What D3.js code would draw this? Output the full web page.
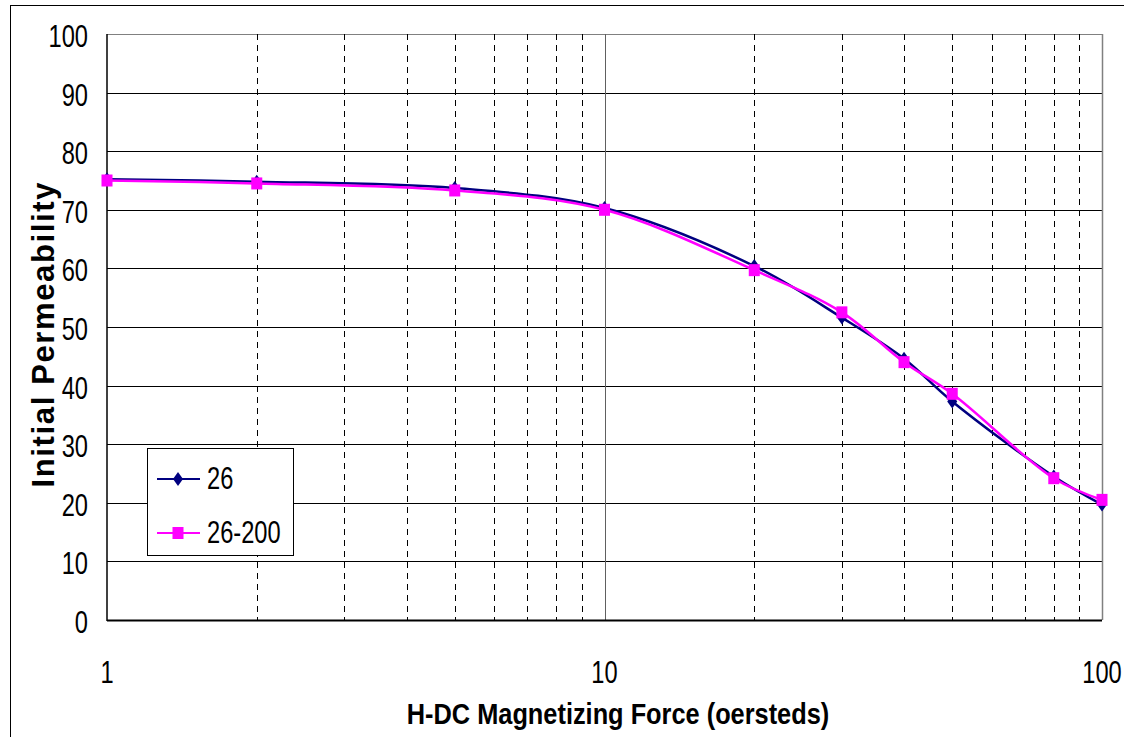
<!DOCTYPE html>
<html>
<head>
<meta charset="utf-8">
<script src="https://cdn.jsdelivr.net/npm/d3@7"></script>
<style>
  body { margin: 0; background: #fff; }
  text { font-family: "Liberation Sans", Arial, sans-serif; }
</style>
</head>
<body>
<svg id="chart" width="1124" height="737"></svg>
<script>
// values
const hValues = [1, 2, 5, 10, 20, 30, 40, 50, 80, 100];
const perm26 = [75.2, 74.8, 73.7, 70.3, 60.4, 51.6, 44.6, 37.3, 24.5, 19.7];
const perm26_200 = [75.0, 74.5, 73.3, 70.0, 59.7, 52.5, 44.0, 38.6, 24.2, 20.5];
const yTicks = [0, 10, 20, 30, 40, 50, 60, 70, 80, 90, 100];
const xTickLabels = [1, 10, 100];
const minorTicks = [2, 3, 4, 5, 6, 7, 8, 9, 20, 30, 40, 50, 60, 70, 80, 90];

const series = [
  { name: "26", values: perm26, color: "#000080", marker: "diamond" },
  { name: "26-200", values: perm26_200, color: "#ff00ff", marker: "square" }
];

const svg = d3.select("#chart");
const plotLeft = 107, plotRight = 1102, plotTop = 34, plotBottom = 620;
const narrow = 0.74; // horizontal squeeze to mimic a narrow face

const x = d3.scaleLog().domain([1, 100]).range([plotLeft, plotRight]);
const y = d3.scaleLinear().domain([0, 100]).range([plotBottom, plotTop]);

// outer frame
svg.append("rect")
  .attr("x", 10.5).attr("y", 5.5)
  .attr("width", 1130).attr("height", 760)
  .attr("fill", "none").attr("stroke", "#000").attr("stroke-width", 1);

// horizontal grid
svg.append("g").selectAll("line").data(yTicks).join("line")
  .attr("x1", plotLeft).attr("x2", plotRight)
  .attr("y1", d => Math.round(y(d)) + 0.5).attr("y2", d => Math.round(y(d)) + 0.5)
  .attr("stroke", d => d === 100 ? "#808080" : "#000").attr("stroke-width", 1);

// vertical minor grid (dashed)
svg.append("g").selectAll("line").data(minorTicks).join("line")
  .attr("x1", d => Math.round(x(d)) + 0.5).attr("x2", d => Math.round(x(d)) + 0.5)
  .attr("y1", plotTop).attr("y2", plotBottom)
  .attr("stroke", "#000").attr("stroke-width", 1)
  .attr("stroke-dasharray", "6,5");

// vertical major grid at 10
svg.append("line")
  .attr("x1", Math.round(x(10)) + 0.5).attr("x2", Math.round(x(10)) + 0.5)
  .attr("y1", plotTop).attr("y2", plotBottom)
  .attr("stroke", "#606060").attr("stroke-width", 1);

// right border
svg.append("line")
  .attr("x1", plotRight + 0.5).attr("x2", plotRight + 0.5)
  .attr("y1", plotTop).attr("y2", plotBottom)
  .attr("stroke", "#808080").attr("stroke-width", 1.5);

// axes lines
svg.append("line")
  .attr("x1", plotLeft).attr("x2", plotLeft).attr("y1", plotTop).attr("y2", plotBottom + 1)
  .attr("stroke", "#000").attr("stroke-width", 1.5);
svg.append("line")
  .attr("x1", plotLeft).attr("x2", plotRight).attr("y1", plotBottom + 0.5).attr("y2", plotBottom + 0.5)
  .attr("stroke", "#000").attr("stroke-width", 2);

// y tick labels
svg.append("g").selectAll("text").data(yTicks).join("text")
  .attr("transform", d => `translate(88,${y(d) + 13}) scale(${narrow},1)`)
  .attr("text-anchor", "end")
  .attr("font-size", 32)
  .text(d => d);

// x tick labels
svg.append("g").selectAll("text").data(xTickLabels).join("text")
  .attr("transform", d => `translate(${x(d)},683) scale(${narrow},1)`)
  .attr("text-anchor", "middle")
  .attr("font-size", 32)
  .text(d => d);

// axis titles
svg.append("text")
  .attr("transform", "translate(618,724) scale(0.845,1)")
  .attr("text-anchor", "middle")
  .attr("font-size", 30).attr("font-weight", "bold")
  .text("H-DC Magnetizing Force (oersteds)");

svg.append("text")
  .attr("transform", "translate(54,335) rotate(-90)")
  .attr("text-anchor", "middle")
  .attr("font-size", 31).attr("font-weight", "bold")
  .attr("textLength", 305)
  .attr("lengthAdjust", "spacing")
  .text("Initial Permeability");

// lines
const line = d3.line()
  .x((d, i) => x(hValues[i]))
  .y(d => y(d))
  .curve(d3.curveCatmullRom.alpha(0.5));

const plot = svg.append("g");
series.forEach(s => {
  plot.append("path")
    .datum(s.values)
    .attr("d", line)
    .attr("fill", "none")
    .attr("stroke", s.color)
    .attr("stroke-width", 2.5);
});

function drawMarker(g, type, cx, cy, color) {
  if (type === "diamond") {
    g.append("path")
      .attr("d", `M${cx},${cy - 7}L${cx + 5},${cy}L${cx},${cy + 7}L${cx - 5},${cy}Z`)
      .attr("fill", color);
  } else {
    g.append("rect")
      .attr("x", cx - 5.5).attr("y", cy - 6)
      .attr("width", 11).attr("height", 12)
      .attr("fill", color);
  }
}

series.forEach(s => {
  s.values.forEach((v, i) => drawMarker(plot, s.marker, x(hValues[i]), y(v), s.color));
});

// legend
const lg = svg.append("g");
lg.append("rect")
  .attr("x", 147.5).attr("y", 448.5).attr("width", 146).attr("height", 107)
  .attr("fill", "#fff").attr("stroke", "#000").attr("stroke-width", 1);
const legendY = [479, 533];
series.forEach((s, i) => {
  lg.append("line")
    .attr("x1", 157).attr("x2", 200)
    .attr("y1", legendY[i]).attr("y2", legendY[i])
    .attr("stroke", s.color).attr("stroke-width", 2);
  drawMarker(lg, s.marker, 178, legendY[i], s.color);
  lg.append("text")
    .attr("transform", `translate(207,${legendY[i] + 10}) scale(${narrow},1)`)
    .attr("font-size", 32)
    .text(s.name);
});
</script>
</body>
</html>
